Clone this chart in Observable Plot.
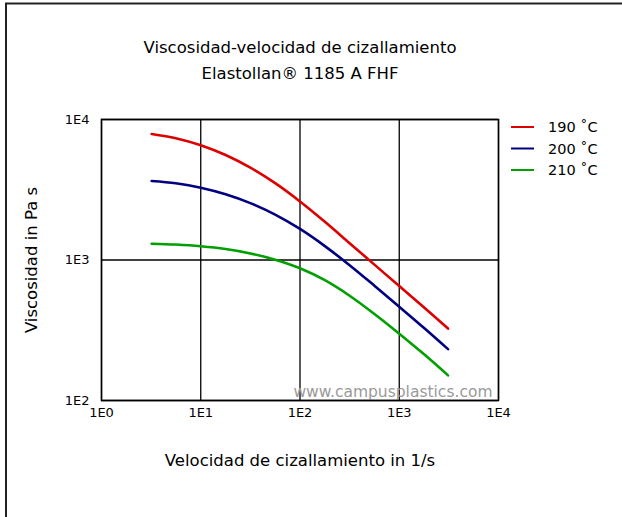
<!DOCTYPE html>
<html>
<head>
<meta charset="utf-8">
<script src="https://cdn.jsdelivr.net/npm/d3@7"></script>
<script src="https://cdn.jsdelivr.net/npm/@observablehq/plot@0.6"></script>
<style>
  html, body { margin: 0; padding: 0; background: #fff; }
  #chart { position: relative; width: 622px; height: 517px; }
</style>
</head>
<body>
<div id="chart"></div>
<script>
// ---- Data ----
const seriesNames = ["190 ˚C", "200 ˚C", "210 ˚C"];
const seriesColors = ["#dd0000", "#000080", "#00a000"];
const shearRate = [3.2, 5.6, 10, 17.8, 31.6, 56.2, 100, 178, 316, 562, 1000, 1780, 3100];
const visc190 = [7889, 7362, 6561, 5585, 4539, 3524, 2612, 1871, 1318, 927, 652, 459, 325];
const visc200 = [3648, 3516, 3273, 2938, 2541, 2104, 1663, 1256, 918, 656, 465, 328, 232];
const visc210 = [1306, 1288, 1253, 1197, 1114, 1005, 873, 718, 557, 413, 299, 213, 151];
const xTicks = [1, 10, 100, 1000, 10000];
const xTickLabels = ["1E0", "1E1", "1E2", "1E3", "1E4"];
const yTicks = [100, 1000, 10000];
const yTickLabels = ["1E2", "1E3", "1E4"];
const titleLines = ["Viscosidad-velocidad de cizallamiento", "Elastollan® 1185 A FHF"];
const xLabel = "Velocidad de cizallamiento in 1/s";
const yLabel = "Viscosidad in Pa s";
const watermark = "www.campusplastics.com";

const table = [];
[visc190, visc200, visc210].forEach((vals, i) => {
  vals.forEach((v, j) => table.push({series: seriesNames[i], x: shearRate[j], y: v}));
});
const xLabelMap = new Map(xTicks.map((t, i) => [t, xTickLabels[i]]));
const yLabelMap = new Map(yTicks.map((t, i) => [t, yTickLabels[i]]));

const W = 622, H = 517;
const mL = 101, mR = 124, mT = 119, mB = 117;
const font = "DejaVu Sans, sans-serif";

const chart = Plot.plot({
  width: W, height: H,
  marginLeft: mL, marginRight: mR, marginTop: mT, marginBottom: mB,
  style: {fontFamily: font, fontSize: "13px", color: "#000", background: "#fff"},
  x: {type: "log", domain: [1, 10000]},
  y: {type: "log", domain: [100, 10000]},
  color: {domain: seriesNames, range: seriesColors},
  marks: [
    Plot.gridX(xTicks, {stroke: "#000", strokeOpacity: 1, strokeWidth: 1.3}),
    Plot.gridY(yTicks, {stroke: "#000", strokeOpacity: 1, strokeWidth: 1.3}),
    Plot.text([watermark], {frameAnchor: "bottom-right", dx: -6, dy: -4, fill: "#9a9a9a", fontSize: 15.5, textAnchor: "end", lineAnchor: "bottom"}),
    Plot.line(table, {x: "x", y: "y", z: "series", stroke: "series", strokeWidth: 2.6, curve: "catmull-rom"}),
    Plot.frame({stroke: "#000", strokeWidth: 1.5}),
    Plot.axisX(xTicks, {tickSize: 0, tickPadding: 7, tickFormat: d => xLabelMap.get(d), label: null, fontSize: 13}),
    Plot.axisY(yTicks, {tickSize: 0, tickPadding: 12, tickFormat: d => yLabelMap.get(d), label: null, fontSize: 13}),
    Plot.text([titleLines[0]], {frameAnchor: "top", dy: -72, lineAnchor: "middle", textAnchor: "middle", fontSize: 16.5, fill: "#000"}),
    Plot.text([titleLines[1]], {frameAnchor: "top", dy: -46, lineAnchor: "middle", textAnchor: "middle", fontSize: 16.5, fill: "#000"}),
    Plot.text([xLabel], {frameAnchor: "bottom", dy: 60, lineAnchor: "middle", textAnchor: "middle", fontSize: 16.5, fill: "#000"}),
    Plot.text([yLabel], {frameAnchor: "left", dx: -70, rotate: -90, lineAnchor: "middle", textAnchor: "middle", fontSize: 16.5, fill: "#000"})
  ]
});

const svg = d3.select(chart);
// legend
const lg = svg.append("g");
seriesNames.forEach((name, i) => {
  const y = 127 + i * 21.5;
  lg.append("line").attr("x1", 511).attr("x2", 534).attr("y1", y).attr("y2", y)
    .attr("stroke", seriesColors[i]).attr("stroke-width", 2);
  lg.append("text").attr("x", 548).attr("y", y).attr("dy", "0.35em")
    .attr("text-anchor", "start")
    .attr("font-family", font).attr("font-size", 14.5).attr("fill", "#000").text(name);
});
// outer border (top and left only)
svg.append("line").attr("x1", 5).attr("x2", W).attr("y1", 3.5).attr("y2", 3.5).attr("stroke", "#222").attr("stroke-width", 2);
svg.append("line").attr("x1", 6).attr("x2", 6).attr("y1", 3).attr("y2", H).attr("stroke", "#222").attr("stroke-width", 2);

document.getElementById("chart").appendChild(chart);
</script>
</body>
</html>
